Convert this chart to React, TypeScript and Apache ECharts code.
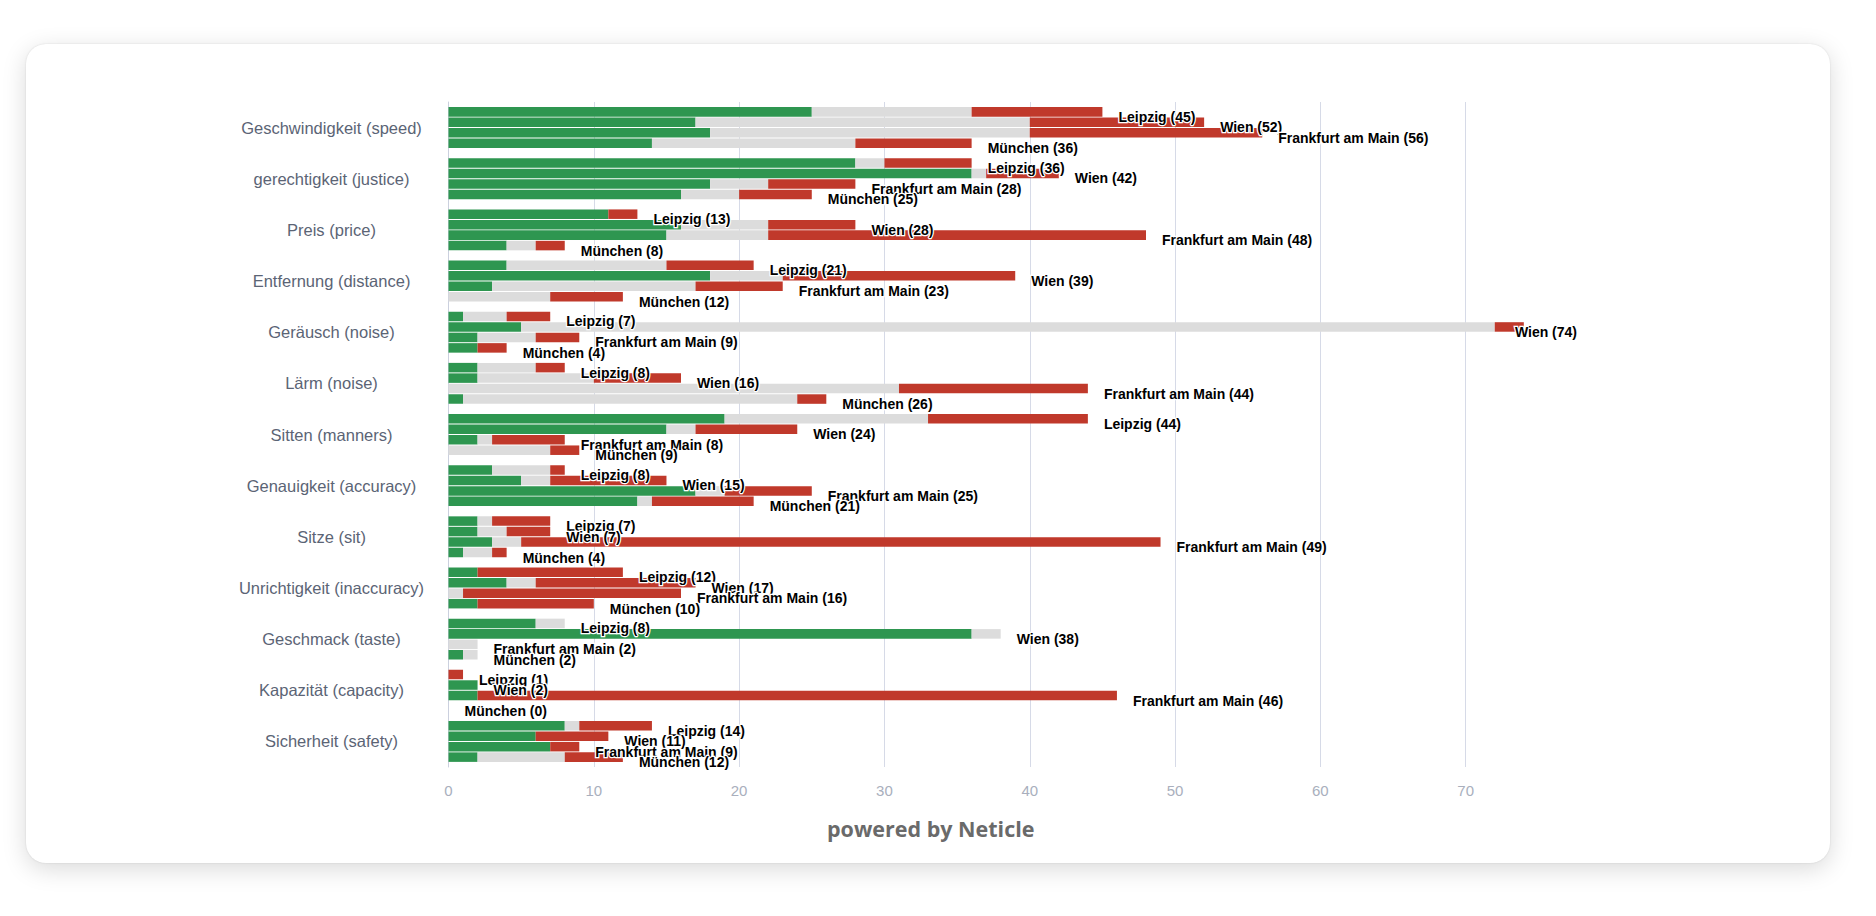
import React, { useEffect, useRef } from "react";
import * as echarts from "echarts";

const categories = [
  "Geschwindigkeit (speed)",
  "gerechtigkeit (justice)",
  "Preis (price)",
  "Entfernung (distance)",
  "Geräusch (noise)",
  "Lärm (noise)",
  "Sitten (manners)",
  "Genauigkeit (accuracy)",
  "Sitze (sit)",
  "Unrichtigkeit (inaccuracy)",
  "Geschmack (taste)",
  "Kapazität (capacity)",
  "Sicherheit (safety)",
];

const cities = ["Leipzig", "Wien", "Frankfurt am Main", "München"];

// positive / neutral / negative per category
const leipzigPos = [25, 28, 11, 4, 1, 2, 19, 3, 2, 2, 6, 0, 8];
const leipzigNeu = [11, 2, 0, 11, 3, 4, 14, 4, 1, 0, 2, 0, 1];
const leipzigNeg = [9, 6, 2, 6, 3, 2, 11, 1, 4, 10, 0, 1, 5];

const wienPos = [17, 36, 16, 18, 5, 2, 15, 5, 2, 4, 36, 2, 6];
const wienNeu = [23, 1, 6, 5, 67, 8, 2, 2, 2, 2, 2, 0, 0];
const wienNeg = [12, 5, 6, 16, 2, 6, 7, 8, 3, 11, 0, 0, 5];

const frankfurtPos = [18, 18, 15, 3, 2, 0, 2, 17, 3, 0, 0, 2, 7];
const frankfurtNeu = [22, 4, 7, 14, 4, 31, 1, 2, 2, 1, 2, 0, 0];
const frankfurtNeg = [16, 6, 26, 6, 3, 13, 5, 6, 44, 15, 0, 44, 2];

const muenchenPos = [14, 16, 4, 0, 2, 1, 0, 13, 1, 2, 1, 0, 2];
const muenchenNeu = [14, 4, 2, 7, 0, 23, 7, 1, 2, 0, 1, 0, 6];
const muenchenNeg = [8, 5, 2, 5, 2, 2, 2, 7, 1, 8, 0, 0, 4];

const xTicks = [0, 10, 20, 30, 40, 50, 60, 70, 80];

const cityData = [
  [leipzigPos, leipzigNeu, leipzigNeg],
  [wienPos, wienNeu, wienNeg],
  [frankfurtPos, frankfurtNeu, frankfurtNeg],
  [muenchenPos, muenchenNeu, muenchenNeg],
];

const segColors = ["#2e9650", "#dcdcdc", "#c0392b"];
const segNames = ["positive", "neutral", "negative"];

const LABEL_FONT = "bold 14px 'Liberation Sans', Arial, sans-serif";
const LABEL_RIGHT_LIMIT = 1551;
const LABEL_DX = 11;
const LABEL_DY = 5;
const LABEL_DIST = 5;

function labelText(ci: number, i: number) {
  const segs = cityData[ci];
  return cities[ci] + " (" + (segs[0][i] + segs[1][i] + segs[2][i]) + ")";
}

export default function App() {
  const ref = useRef<HTMLDivElement>(null);

  useEffect(() => {
    if (!ref.current) return;
    const chart = echarts.init(ref.current, undefined, { renderer: "svg" });

    const buildSeries = (negData: (ci: number) => any[]) => {
      const series: any[] = [];
      cities.forEach((city, ci) => {
        const segs = cityData[ci];
        segs.forEach((arr, si) => {
          const isLast = si === 2;
          series.push({
            type: "bar",
            name: city + " " + segNames[si],
            stack: city,
            data: isLast ? negData(ci) : arr,
            barCategoryGap: "20%",
            barGap: "10%",
            itemStyle: { color: segColors[si] },
            emphasis: { disabled: true },
            label: isLast
              ? {
                  show: true,
                  position: "right",
                  distance: LABEL_DIST,
                  offset: [LABEL_DX, LABEL_DY],
                  formatter: (p: any) => labelText(ci, p.dataIndex),
                  fontFamily: "Liberation Sans, Arial, sans-serif",
                  fontWeight: "bold",
                  fontSize: 14,
                  color: "#000",
                  textBorderColor: "#fff",
                  textBorderWidth: 2.5,
                }
              : { show: false },
          });
        });
      });
      return series;
    };

    const splitColors = xTicks.map((t, i) => (i === xTicks.length - 1 ? "rgba(0,0,0,0)" : "#d6dae7"));

    chart.setOption({
      animation: false,
      tooltip: { show: false },
      grid: { left: 422.5, top: 58, right: 219, bottom: 96, containLabel: false },
      xAxis: {
        type: "value",
        min: xTicks[0],
        max: xTicks[xTicks.length - 1],
        interval: 10,
        axisLine: { show: false },
        axisTick: { show: false },
        splitLine: { show: true, lineStyle: { color: splitColors, width: 1 } },
        axisLabel: {
          showMaxLabel: false,
          color: "#a9afbd",
          fontSize: 15,
          margin: 16,
          fontFamily: "Liberation Sans, Arial, sans-serif",
        },
      },
      yAxis: {
        type: "category",
        inverse: true,
        data: categories,
        axisTick: { show: false },
        axisLine: { show: true, lineStyle: { color: "#cbd0de", width: 1 } },
        axisLabel: {
          align: "center",
          margin: 117,
          color: "#5b6475",
          fontSize: 16.5,
          fontFamily: "Liberation Sans, Arial, sans-serif",
        },
      },
      graphic: [
        {
          type: "text",
          left: 905 - 104,
          top: 784 - 11,
          style: {
            text: "powered by Neticle",
            fill: "#6a6a6a",
            font: "bold 21.5px 'Open Sans', sans-serif",
          },
        },
      ],
      series: buildSeries((ci) => cityData[ci][2]),
    });

    // keep labels inside the plot's right edge (justify like the original)
    const ctx = document.createElement("canvas").getContext("2d");
    if (ctx) ctx.font = LABEL_FONT;
    const adjusted = buildSeries((ci) => {
      const segs = cityData[ci];
      return segs[2].map((v, i) => {
        const total = segs[0][i] + segs[1][i] + segs[2][i];
        const px = chart.convertToPixel({ gridIndex: 0 } as any, [total, i]) as any;
        const endX = Array.isArray(px) ? px[0] : 0;
        const w = ctx ? ctx.measureText(labelText(ci, i)).width : 0;
        const right = endX + LABEL_DIST + LABEL_DX + w;
        if (right > LABEL_RIGHT_LIMIT) {
          return { value: v, label: { offset: [LABEL_DX - (right - LABEL_RIGHT_LIMIT), LABEL_DY] } };
        }
        return v;
      });
    });
    chart.setOption({ series: adjusted });

    return () => chart.dispose();
  }, []);

  return (
    <div
      style={{
        position: "absolute",
        left: 0,
        top: 0,
        width: 1876,
        height: 916,
        background: "#ffffff",
        overflow: "hidden",
      }}
    >
      <div
        style={{
          position: "absolute",
          left: 26,
          top: 44,
          width: 1804,
          height: 819,
          borderRadius: 20,
          background: "#ffffff",
          boxShadow: "0 6px 24px rgba(0,0,0,0.15), 0 0 2px rgba(0,0,0,0.12)",
        }}
      >
        <div ref={ref} style={{ width: 1804, height: 819 }} />
      </div>
    </div>
  );
}
